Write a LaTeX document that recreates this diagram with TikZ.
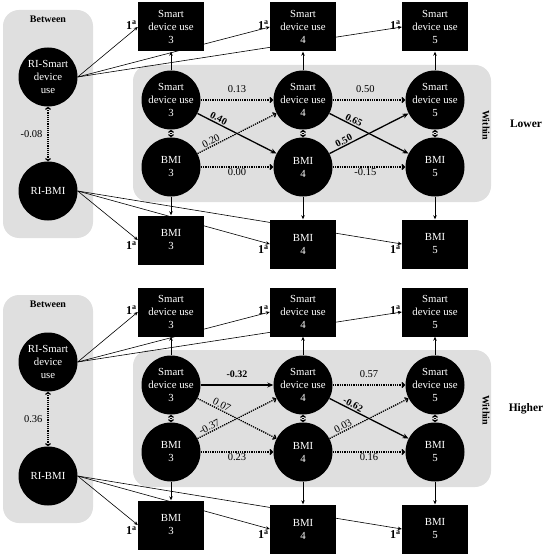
\documentclass[tikz,border=0pt]{standalone}
\usepackage{fontspec}
\setmainfont{Liberation Serif}
\usetikzlibrary{positioning,calc,arrows.meta}
\pgfdeclarelayer{panel}
\pgfdeclarelayer{lines}
\pgfsetlayers{panel,lines,main}
\tikzset{
  latent/.style={circle,fill=black,text=white,minimum size=59pt,inner sep=0pt,align=center,font=\fontsize{10.8}{13}\selectfont},
  observed/.style={rectangle,fill=black,text=white,minimum width=66pt,minimum height=49pt,inner sep=0pt,align=center,font=\fontsize{10.8}{13}\selectfont},
  panel/.style={fill=gray!25,rounded corners=16pt},
  groupname/.style={font=\fontsize{10}{12}\selectfont\bfseries},
  condname/.style={font=\fontsize{11.5}{13}\selectfont\bfseries},
  load/.style={-{Stealth[length=4pt,width=3.5pt]},line width=0.6pt},
  effect/.style={-{Stealth[length=6pt,width=5pt]},line width=1.3pt},
  noeffect/.style={-{Straight Barb[length=2.5pt,width=5pt]},densely dotted,line width=1.3pt},
  covar/.style={{Straight Barb[length=2pt,width=5pt]}-{Straight Barb[length=2pt,width=5pt]},densely dotted,line width=1.2pt},
  coef/.style={font=\fontsize{10.5}{12}\selectfont,inner sep=1pt},
  fixed/.style={font=\fontsize{12}{13}\selectfont\bfseries,inner sep=1pt},
}
\newcommand{\onea}{1\textsuperscript{a}}

\begin{document}
\begin{tikzpicture}[x=1pt,y=-1pt]
\useasboundingbox (0,0) rectangle (546,556);
% both groups share the same model
\foreach \grp/\dy/\cond in {L/0/Lower,H/285/Higher} {
\begin{scope}[shift={(0,\dy)}]
\begin{pgfonlayer}{panel}
\fill[panel] (3,10) rectangle (93,238);
\fill[panel] (133,65) rectangle (491,202);
\end{pgfonlayer}
\node[groupname] at (48,19) {Between};
\node[groupname,rotate=-90] at (486,125) {Within};
\node[condname] at (526,124) {\cond};
\node[latent] (\grp ri1) at (48,77) {RI-Smart\\device\\use};
\node[latent] (\grp ri2) at (48,191) {RI-BMI};
\foreach \col/\x/\yb in {3/171/240,4/303/244,5/435/244} {
  \node[latent] (\grp s\col) at (\x,100) {Smart\\device use\\\col};
  \node[latent] (\grp b\col) at (\x,167) {BMI\\\col};
  \node[observed] (\grp os\col) at (\x,27) {Smart\\device use\\\col};
  \node[observed] (\grp ob\col) at (\x,\yb) {BMI\\\col};
  \draw[load] (\grp s\col) -- (\grp os\col);
  \draw[load] (\grp b\col) -- (\grp ob\col);
  \draw[covar] (\grp s\col) -- (\grp b\col);
  \begin{pgfonlayer}{lines}
  \draw[load] (\grp ri1.east) -- (\grp os\col.west) node[fixed,left,yshift=2pt] {\onea};
  \draw[load] (\grp ri2.east) -- (\grp ob\col.west) node[fixed,below left] {\onea};
  \end{pgfonlayer}
}
\end{scope}
}

% lower group
\draw[covar] (Lri1) -- node[coef,left=4pt] {-0.08} (Lri2);
\draw[noeffect] (Ls3) -- node[coef,above=6pt] {0.13} (Ls4);
\draw[noeffect] (Ls4) -- node[coef,above=6pt,pos=0.45] {0.50} (Ls5);
\draw[noeffect] (Lb3) -- node[coef,below] {0.00} (Lb4);
\draw[noeffect] (Lb4) -- node[coef,below,pos=0.45] {-0.15} (Lb5);
\draw[effect] (Ls3) -- node[coef,sloped,above,pos=0.24,font=\bfseries] {0.40} (Lb4);
\draw[noeffect] (Lb3) -- node[coef,sloped,above,pos=0.2] {0.20} (Ls4);
\draw[effect] (Ls4) -- node[coef,sloped,above,pos=0.28,font=\bfseries] {0.65} (Lb5);
\draw[effect] (Lb4) -- node[coef,sloped,above,pos=0.21,font=\bfseries] {0.50} (Ls5);

% higher group
\draw[covar] (Hri1) -- node[coef,left=4pt] {0.36} (Hri2);
\draw[effect] (Hs3) -- node[coef,above=6pt,font=\bfseries] {-0.32} (Hs4);
\draw[noeffect] (Hs4) -- node[coef,above=6pt] {0.57} (Hs5);
\draw[noeffect] (Hb3) -- node[coef,below] {0.23} (Hb4);
\draw[noeffect] (Hb4) -- node[coef,below] {0.16} (Hb5);
\draw[noeffect] (Hs3) -- node[coef,sloped,above,pos=0.28] {0.07} (Hb4);
\draw[noeffect] (Hb3) -- node[coef,sloped,above,pos=0.18] {-0.37} (Hs4);
\draw[effect] (Hs4) -- node[coef,sloped,above,pos=0.27,font=\bfseries] {-0.62} (Hb5);
\draw[noeffect] (Hb4) -- node[coef,sloped,above,pos=0.2] {0.03} (Hs5);
\end{tikzpicture}
\end{document}
